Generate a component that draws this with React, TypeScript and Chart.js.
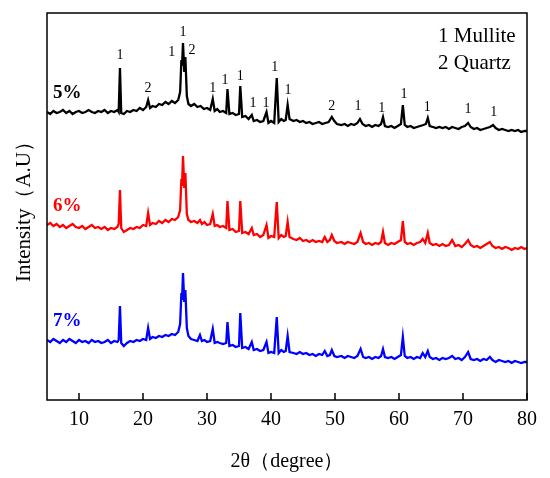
import { useEffect, useRef } from "react";
import Chart from "chart.js/auto";

// 2θ (degree), intensity (A.U, offset stacked)
const SAMPLE_5: Array<[number, number]> = [
  [5, 288], [5.5, 286], [6, 289], [6.5, 287], [7, 288], [7.5, 290], [8, 287], [8.5, 289], [9, 286], [9.5, 288],
  [10, 289], [10.5, 287], [11, 288], [11.5, 290], [12, 288], [12.5, 287], [13, 289], [13.5, 288], [14, 290], [14.5, 287],
  [15, 289], [15.5, 288], [16, 290], [16.2, 288], [16.4, 332], [16.6, 287], [17, 286], [17.5, 289], [18, 288], [18.5, 290],
  [19, 289], [19.5, 292], [20, 290], [20.5, 293], [20.8, 300], [21.1, 292], [21.5, 294], [22, 293], [22.5, 296], [23, 295],
  [23.5, 298], [24, 296], [24.5, 299], [25, 297], [25.5, 300], [25.8, 308], [26.0, 340], [26.1, 334], [26.25, 357], [26.45, 328],
  [26.62, 343], [26.85, 304], [27.1, 296], [27.5, 294], [28, 296], [28.5, 293], [29, 294], [29.5, 291], [30, 292], [30.5, 290],
  [30.9, 301], [31.2, 289], [31.6, 291], [32, 288], [32.5, 289], [33, 287], [33.2, 311], [33.5, 286], [34, 287], [34.5, 285],
  [35, 286], [35.2, 314], [35.5, 283], [36, 284], [36.5, 281], [37.0, 285], [37.3, 279], [37.8, 280], [38.3, 278], [38.8, 279],
  [39.3, 288], [39.6, 277], [40, 279], [40.5, 277], [40.9, 322], [41.2, 278], [41.6, 281], [42, 279], [42.3, 280], [42.6, 295],
  [42.9, 281], [43.5, 279], [44, 280], [44.5, 278], [45, 279], [45.5, 277], [46, 278], [46.5, 276], [47, 277], [47.5, 278],
  [48, 276], [48.5, 277], [49, 278], [49.5, 283], [49.9, 279], [50.3, 276], [51, 275], [51.5, 276], [52, 274], [52.5, 276],
  [53, 275], [53.5, 277], [53.9, 281], [54.3, 276], [54.8, 274], [55.3, 275], [55.8, 273], [56.3, 275], [56.8, 274], [57.2, 276],
  [57.5, 283], [57.8, 274], [58.3, 273], [58.8, 274], [59.3, 272], [59.8, 274], [60.3, 276], [60.6, 295], [60.9, 275], [61.3, 273],
  [61.8, 274], [62.3, 272], [62.8, 273], [63.3, 274], [63.8, 275], [64.2, 276], [64.5, 282], [64.8, 274], [65.3, 273], [65.8, 272],
  [66.3, 273], [66.8, 272], [67.3, 273], [67.8, 271], [68.3, 273], [68.8, 272], [69.3, 271], [69.8, 273], [70.3, 274], [70.8, 277],
  [71.2, 273], [71.7, 271], [72.2, 272], [72.7, 270], [73.2, 271], [73.7, 272], [74.2, 273], [74.7, 275], [75.1, 272], [75.6, 270],
  [76.1, 271], [76.6, 270], [77.1, 269], [77.6, 270], [78.1, 269], [78.6, 270], [79.1, 268], [79.6, 269], [80, 269],
];

const SAMPLE_6: Array<[number, number]> = [
  [5, 175], [5.5, 177], [6, 174], [6.5, 176], [7, 173], [7.5, 175], [8, 172], [8.5, 174], [9, 176], [9.5, 173],
  [10, 172], [10.5, 174], [11, 171], [11.5, 173], [12, 175], [12.5, 172], [13, 173], [13.5, 171], [14, 173], [14.5, 170],
  [15, 172], [15.5, 171], [16, 173], [16.2, 176], [16.4, 210], [16.6, 172], [17, 168], [17.5, 170], [18, 172], [18.5, 171],
  [19, 173], [19.5, 172], [20, 175], [20.5, 174], [20.8, 187], [21.1, 175], [21.5, 177], [22, 176], [22.5, 179], [23, 177],
  [23.5, 180], [24, 178], [24.5, 181], [25, 180], [25.5, 183], [25.8, 190], [26.0, 221], [26.1, 214], [26.25, 244], [26.45, 212],
  [26.62, 227], [26.85, 186], [27.1, 180], [27.5, 178], [28, 179], [28.5, 177], [28.9, 180], [29.2, 176], [29.6, 178], [30, 175],
  [30.5, 176], [30.9, 186], [31.2, 174], [31.6, 175], [32, 173], [32.5, 174], [33, 172], [33.2, 199], [33.5, 170], [34, 171],
  [34.5, 168], [35, 169], [35.2, 199], [35.5, 167], [36, 168], [36.5, 166], [37, 172], [37.3, 165], [37.8, 166], [38.3, 163],
  [38.8, 165], [39.3, 175], [39.6, 162], [40, 164], [40.5, 163], [40.9, 198], [41.2, 162], [41.6, 165], [42, 163], [42.3, 164],
  [42.6, 178], [42.9, 163], [43.5, 161], [44, 160], [44.5, 162], [45, 159], [45.5, 160], [46, 158], [46.5, 160], [47, 158],
  [47.5, 159], [48, 158], [48.4, 163], [48.8, 158], [49.2, 160], [49.5, 165], [49.9, 159], [50.3, 157], [51, 158], [51.5, 156],
  [52, 158], [52.5, 157], [53, 156], [53.5, 158], [54, 167], [54.4, 158], [54.8, 156], [55.3, 157], [55.8, 155], [56.3, 157],
  [56.8, 156], [57.2, 158], [57.5, 168], [57.8, 157], [58.3, 155], [58.8, 157], [59.3, 156], [59.8, 158], [60.3, 160], [60.6, 179],
  [60.9, 158], [61.3, 156], [61.8, 157], [62.3, 155], [62.8, 157], [63.3, 158], [63.7, 161], [64.1, 157], [64.5, 167], [64.8, 157],
  [65.3, 155], [65.8, 156], [66.3, 154], [66.8, 156], [67.3, 154], [67.8, 155], [68.3, 160], [68.8, 154], [69.3, 155], [69.8, 153],
  [70.3, 156], [70.8, 160], [71.2, 155], [71.7, 153], [72.2, 154], [72.7, 152], [73.2, 154], [73.7, 156], [74.2, 158], [74.6, 154],
  [75.1, 152], [75.6, 153], [76.1, 151], [76.6, 153], [77.1, 152], [77.6, 150], [78.1, 152], [78.6, 151], [79.1, 153], [79.6, 151],
  [80, 152],
];

const SAMPLE_7: Array<[number, number]> = [
  [5, 60], [5.5, 58], [6, 61], [6.5, 59], [7, 57], [7.5, 60], [8, 58], [8.5, 61], [9, 59], [9.5, 57],
  [10, 60], [10.5, 58], [11, 59], [11.5, 57], [12, 60], [12.5, 58], [13, 59], [13.5, 57], [14, 58], [14.5, 60],
  [15, 57], [15.5, 59], [16, 58], [16.2, 60], [16.4, 94], [16.6, 57], [17, 54], [17.5, 57], [18, 59], [18.5, 58],
  [19, 60], [19.5, 59], [20, 61], [20.5, 60], [20.8, 72], [21.1, 61], [21.5, 63], [22, 62], [22.5, 64], [23, 63],
  [23.5, 65], [24, 64], [24.5, 66], [25, 65], [25.5, 68], [25.8, 76], [26.0, 107], [26.1, 100], [26.25, 127], [26.45, 98],
  [26.62, 110], [26.85, 72], [27.1, 64], [27.5, 61], [28, 60], [28.5, 59], [28.9, 65], [29.2, 59], [29.6, 60], [30, 58],
  [30.5, 59], [30.9, 71], [31.2, 57], [31.6, 58], [32, 57], [32.5, 56], [33, 57], [33.2, 78], [33.5, 54], [34, 55],
  [34.5, 53], [35, 54], [35.2, 87], [35.5, 52], [36, 53], [36.5, 51], [37, 58], [37.3, 50], [37.8, 51], [38.3, 49],
  [38.8, 50], [39.3, 58], [39.6, 47], [40, 48], [40.5, 47], [40.9, 83], [41.2, 47], [41.6, 50], [42, 48], [42.3, 49],
  [42.6, 64], [42.9, 48], [43.5, 47], [44, 46], [44.5, 48], [45, 46], [45.5, 47], [46, 45], [46.5, 46], [47, 44],
  [47.5, 46], [48, 45], [48.4, 49], [48.8, 44], [49.2, 45], [49.5, 50], [49.9, 44], [50.3, 43], [51, 44], [51.5, 42],
  [52, 44], [52.5, 43], [53, 42], [53.5, 44], [54, 51], [54.4, 43], [54.8, 42], [55.3, 43], [55.8, 41], [56.3, 43],
  [56.8, 42], [57.2, 44], [57.5, 51], [57.8, 43], [58.3, 42], [58.8, 43], [59.3, 41], [59.8, 43], [60.3, 45], [60.6, 63],
  [60.9, 44], [61.3, 42], [61.8, 43], [62.3, 41], [62.8, 43], [63.3, 42], [63.7, 47], [64.1, 43], [64.5, 49], [64.8, 43],
  [65.3, 41], [65.8, 42], [66.3, 40], [66.8, 42], [67.3, 41], [67.8, 42], [68.3, 44], [68.8, 41], [69.3, 42], [69.8, 40],
  [70.3, 43], [70.8, 48], [71.2, 41], [71.7, 40], [72.2, 41], [72.7, 39], [73.2, 41], [73.7, 40], [74.2, 43], [74.6, 40],
  [75.1, 38], [75.6, 40], [76.1, 39], [76.6, 38], [77.1, 39], [77.6, 37], [78.1, 39], [78.6, 38], [79.1, 37], [79.6, 38],
  [80, 38],
];

const X_TICKS = [10, 20, 30, 40, 50, 60, 70, 80];

// phase markers above the 5% pattern: [2θ, intensity, text]
const PEAK_MARKS: Array<[number, number, string]> = [
  [16.4, 345, "1"], [20.8, 312, "2"], [24.5, 348, "1"], [26.25, 368, "1"], [27.65, 350, "2"],
  [30.9, 312, "1"], [32.8, 320, "1"], [35.2, 324, "1"], [37.2, 297, "1"], [39.2, 297, "1"],
  [40.6, 333, "1"], [42.65, 310, "1"], [49.5, 294, "2"], [53.6, 294, "1"], [57.3, 292, "1"],
  [60.8, 306, "1"], [64.4, 293, "1"], [70.8, 291, "1"], [74.8, 288, "1"],
];

const SERIES_NAMES = ["5%", "6%", "7%"];
const SERIES_COLORS = ["#000000", "#ff0000", "#0000ff"];
const SERIES_LABEL_Y = [307, 194, 79];
const PHASES = ["1 Mullite", "2 Quartz"];

const SERIF = "'Liberation Serif', 'Times New Roman', serif";

const decorations = {
  id: "decorations",
  afterDraw(chart: Chart) {
    const { ctx, chartArea: a, scales } = chart;
    const x = scales.x;
    const y = scales.y;
    ctx.save();
    ctx.strokeStyle = "#000";
    ctx.lineWidth = 1.5;
    ctx.strokeRect(a.left, a.top, a.right - a.left, a.bottom - a.top);
    ctx.beginPath();
    X_TICKS.forEach((t) => {
      const px = x.getPixelForValue(t);
      ctx.moveTo(px, a.bottom);
      ctx.lineTo(px, a.bottom - 7);
    });
    ctx.stroke();

    ctx.fillStyle = "#000";
    ctx.textAlign = "center";
    ctx.textBaseline = "middle";
    ctx.font = `14px ${SERIF}`;
    PEAK_MARKS.forEach(([d, v, s]) => {
      ctx.fillText(s, x.getPixelForValue(d), y.getPixelForValue(v));
    });

    ctx.textAlign = "left";
    ctx.font = `bold 19px ${SERIF}`;
    SERIES_NAMES.forEach((n, i) => {
      ctx.fillStyle = SERIES_COLORS[i];
      ctx.fillText(n, x.getPixelForValue(5.95), y.getPixelForValue(SERIES_LABEL_Y[i]));
    });

    ctx.fillStyle = "#000";
    ctx.font = `21px ${SERIF}`;
    PHASES.forEach((p, i) => {
      ctx.fillText(p, x.getPixelForValue(66.1), y.getPixelForValue(364 - i * 27));
    });
    ctx.restore();
  },
};

export default function App() {
  const canvasRef = useRef<HTMLCanvasElement>(null);

  useEffect(() => {
    document.body.style.margin = "0";
    if (!canvasRef.current) return;
    const series = [SAMPLE_5, SAMPLE_6, SAMPLE_7];
    const chart = new Chart(canvasRef.current, {
      type: "line",
      data: {
        datasets: series.map((s, i) => ({
          label: SERIES_NAMES[i],
          data: s.map(([d, v]) => ({ x: d, y: v })),
          borderColor: SERIES_COLORS[i],
          borderWidth: 2.3,
          pointRadius: 0,
          tension: 0,
          fill: false,
        })),
      },
      options: {
        responsive: false,
        animation: false,
        layout: { padding: { top: 13, right: 23, left: 0, bottom: 0 } },
        plugins: {
          legend: { display: false },
          tooltip: { enabled: false },
        },
        scales: {
          x: {
            type: "linear",
            min: 5,
            max: 80,
            afterBuildTicks: (axis) => {
              axis.ticks = X_TICKS.map((v) => ({ value: v }));
            },
            afterFit: (axis) => {
              axis.height = 78;
            },
            grid: { display: false, drawTicks: false },
            border: { display: false },
            ticks: {
              color: "#000",
              padding: 8,
              maxRotation: 0,
              font: { family: SERIF, size: 20 },
            },
            title: {
              display: true,
              text: "2θ（degree）",
              color: "#000",
              padding: { top: 0, bottom: 4 },
              font: { family: SERIF, size: 20 },
            },
          },
          y: {
            min: 0,
            max: 387,
            afterFit: (axis) => {
              axis.width = 47;
            },
            grid: { display: false, drawTicks: false },
            border: { display: false },
            ticks: { display: false },
            title: {
              display: true,
              text: "Intensity（A.U）",
              color: "#000",
              padding: { top: 12, bottom: 0 },
              font: { family: SERIF, size: 21 },
            },
          },
        },
      },
      plugins: [decorations],
    });
    return () => chart.destroy();
  }, []);

  return (
    <div style={{ width: 550, height: 478, background: "#fff" }}>
      <canvas ref={canvasRef} width={550} height={478} />
    </div>
  );
}
